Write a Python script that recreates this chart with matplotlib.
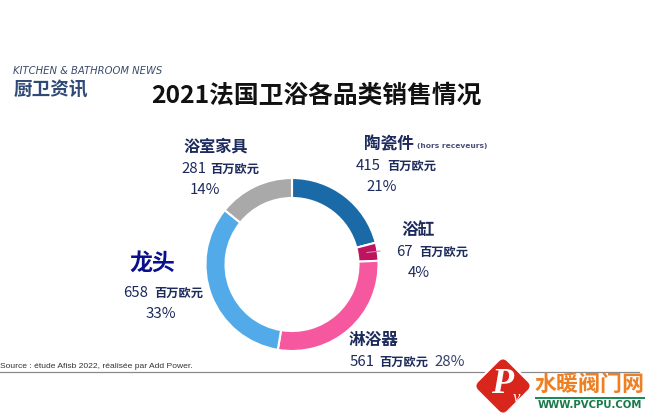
import matplotlib
matplotlib.use('Agg')
import matplotlib.pyplot as plt
from matplotlib.patches import FancyBboxPatch, Rectangle
from matplotlib.transforms import Affine2D

plt.rcParams['font.family'] = ['Noto Sans CJK SC', 'DejaVu Sans']

#data
categories = ['陶瓷件', '浴缸', '淋浴器', '龙头', '浴室家具']
values = [415, 67, 561, 658, 281]
percents = ['21%', '4%', '28%', '33%', '14%']
colors = ['#1a6aa8', '#c0135f', '#f6589f', '#53aae8', '#a9a9a9']
unit = '百万欧元'

W = 650
H = 419
navy = '#1c2a5c'

fig = plt.figure(figsize=(W/100, H/100), dpi=100)
ax = fig.add_axes([0, 0, 1, 1])
ax.set_xlim(0, W)
ax.set_ylim(H, 0)
ax.axis('off')

#donut, y axis is flipped so counterclock here reads clockwise on screen
ax.pie(values, colors=colors, startangle=-90, counterclock=True, center=(292, 264.5), radius=86.5,
       frame=True, wedgeprops=dict(width=20, edgecolor='white', linewidth=1.5))
ax.set_xlim(0, W)
ax.set_ylim(H, 0)
ax.set_aspect('auto')
ax.axis('off')
ax.plot([367, 380], [252.5, 251], color='#d98aa8', lw=0.8)

#header
ax.text(13, 70.5, 'KITCHEN & BATHROOM NEWS', fontsize=7.2, style='italic', color='#3b4a6b', family='DejaVu Sans', va='center')
ax.text(14, 90, '厨卫资讯', fontsize=13.4, fontweight='bold', style='italic', color='#2f4a78', va='center')
ax.text(316, 96, '2021法国卫浴各品类销售情况', fontsize=17.8, fontweight='bold', color='#111111', ha='center', va='center')

#labels
ax.text(216, 146, categories[4], fontsize=11.6, fontweight='bold', color=navy, ha='center', va='center')
ax.text(206, 169, str(values[4]), fontsize=10.8, color=navy, ha='right', va='center')
ax.text(210, 169, unit, fontsize=8.8, fontweight='bold', color=navy, ha='left', va='center')
ax.text(205, 190, percents[4], fontsize=10.8, color=navy, ha='center', va='center')

ax.text(389, 145, categories[0], fontsize=12, fontweight='bold', color=navy, ha='center', va='center')
ax.text(417, 146, '(hors receveurs)', fontsize=5.4, fontweight='bold', color='#4a5078', family='DejaVu Sans', ha='left', va='center')
ax.text(381, 166, str(values[0]), fontsize=10.8, color=navy, ha='right', va='center')
ax.text(387, 166, unit, fontsize=8.8, fontweight='bold', color=navy, ha='left', va='center')
ax.text(382, 187, percents[0], fontsize=10.8, color=navy, ha='center', va='center')

ax.text(418, 230, categories[1], fontsize=12, fontweight='bold', color=navy, ha='center', va='center')
ax.text(413, 252, str(values[1]), fontsize=10.8, color=navy, ha='right', va='center')
ax.text(419, 252, unit, fontsize=8.8, fontweight='bold', color=navy, ha='left', va='center')
ax.text(419, 273, percents[1], fontsize=10.8, color=navy, ha='center', va='center')

ax.text(152, 263, categories[3], fontsize=16.5, fontweight='bold', color='#0a0f8c', ha='center', va='center')
ax.text(148, 293, str(values[3]), fontsize=10.8, color=navy, ha='right', va='center')
ax.text(154, 293, unit, fontsize=8.8, fontweight='bold', color=navy, ha='left', va='center')
ax.text(161, 314, percents[3], fontsize=10.8, color=navy, ha='center', va='center')

ax.text(374, 340, categories[2], fontsize=12, fontweight='bold', color=navy, ha='center', va='center')
ax.text(350, 362, str(values[2]), fontsize=10.8, color=navy, ha='left', va='center')
ax.text(379, 362, unit, fontsize=8.8, fontweight='bold', color=navy, ha='left', va='center')
ax.text(434, 362, percents[2], fontsize=10.8, color='#33406e', ha='left', va='center')

#source and rule
ax.text(0, 366, 'Source : étude Afisb 2022, réalisée par Add Power.', fontsize=6.1, color='#333333',
        family='Liberation Sans', ha='left', va='center')
ax.plot([0, 639], [371.5, 371.5], color='#8a8a8a', lw=0.9)

#watermark logo
diamond = FancyBboxPatch((-19, -19), 38, 38, boxstyle='round,pad=0,rounding_size=6', fc='#d9261c', ec='white', lw=1.5,
                         transform=Affine2D().rotate_deg(45).scale(1.12, 1.12).translate(503, 386) + ax.transData, zorder=5)
ax.add_patch(diamond)
ax.text(502, 384, 'P', fontsize=26, fontweight='bold', style='italic', color='white', family='Liberation Serif', ha='center', va='center', zorder=6)
ax.text(516, 398, 'v', fontsize=12, style='italic', color='white', family='Liberation Serif', ha='center', va='center', zorder=6)
ax.text(590, 384, '水暖阀门网', fontsize=15.8, fontweight='bold', color='#ee7f22', ha='center', va='center', zorder=6)
ax.add_patch(Rectangle((535, 396.5), 110, 2, fc='#1e8a55', ec='none', zorder=6))
ax.text(590, 405, 'WWW.PVCPU.COM', fontsize=7.3, fontweight='bold', color='#1a7a4a', family='DejaVu Sans', ha='center', va='center', zorder=6)

plt.savefig('out.png', dpi=100)
